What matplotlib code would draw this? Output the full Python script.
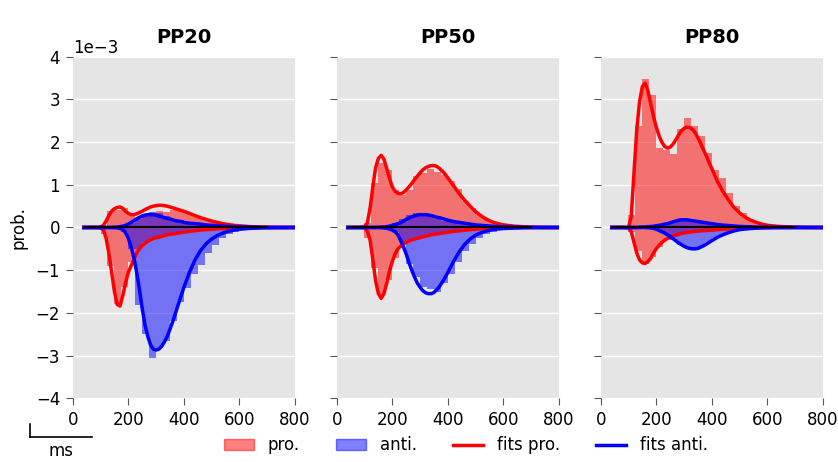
import numpy as np
import matplotlib
matplotlib.use("Agg")
import matplotlib.pyplot as plt
from matplotlib.patches import Patch
from matplotlib.lines import Line2D

titles = ["PP20", "PP50", "PP80"]
bin_edges = [50, 75, 100, 125, 150, 175, 200, 225, 250, 275, 300, 325, 350, 375, 400,
             425, 450, 475, 500, 525, 550, 575, 600, 625, 650, 675, 700]

# histogram heights (x1e-3), one value per 25 ms bin (26 bins from 50 to 700 ms)
pro_up = [
    [0, 0, 0.03, 0.38, 0.40, 0.45, 0.30, 0.25, 0.30, 0.35, 0.38, 0.36, 0.41, 0.40, 0.33,
     0.29, 0.23, 0.20, 0.13, 0.09, 0.06, 0.04, 0.03, 0.02, 0.01, 0.01],
    [0, 0, 0.10, 1.04, 1.50, 1.35, 0.88, 0.75, 0.88, 1.20, 1.27, 1.37, 1.31, 1.23, 1.08,
     0.90, 0.61, 0.45, 0.30, 0.20, 0.12, 0.07, 0.04, 0.02, 0.01, 0.01],
    [0, 0, 0.30, 2.38, 3.47, 3.10, 1.86, 1.82, 1.72, 2.30, 2.56, 2.37, 2.15, 1.74, 1.35,
     1.16, 0.80, 0.50, 0.35, 0.20, 0.12, 0.07, 0.05, 0.03, 0.02, 0.01],
]
anti_up = [
    [0, 0, 0, 0, 0, 0.03, 0.10, 0.20, 0.30, 0.36, 0.34, 0.26, 0.20, 0.17, 0.12,
     0.10, 0.08, 0.06, 0.04, 0.03, 0.02, 0.01, 0.01, 0, 0, 0],
    [0, 0, 0, 0, 0, 0.02, 0.10, 0.20, 0.30, 0.35, 0.33, 0.28, 0.20, 0.16, 0.13,
     0.10, 0.07, 0.05, 0.04, 0.02, 0.01, 0.01, 0, 0, 0, 0],
    [0, 0, 0, 0, 0, 0.02, 0.05, 0.08, 0.12, 0.20, 0.20, 0.15, 0.12, 0.08, 0.06,
     0.04, 0.03, 0.02, 0.01, 0.01, 0, 0, 0, 0, 0, 0],
]
pro_down = [
    [0, 0, -0.15, -0.90, -1.80, -1.40, -0.80, -0.50, -0.35, -0.25, -0.20, -0.15, -0.12, -0.10, -0.08,
     -0.06, -0.05, -0.04, -0.03, -0.02, -0.01, -0.01, 0, 0, 0, 0],
    [0, 0, -0.25, -0.95, -1.58, -1.23, -0.72, -0.40, -0.30, -0.25, -0.20, -0.15, -0.13, -0.10, -0.08,
     -0.06, -0.05, -0.04, -0.03, -0.02, -0.01, -0.01, 0, 0, 0, 0],
    [0, 0, -0.10, -0.55, -0.85, -0.70, -0.45, -0.30, -0.22, -0.15, -0.12, -0.10, -0.08, -0.06, -0.05,
     -0.04, -0.03, -0.02, -0.02, -0.01, -0.01, 0, 0, 0, 0, 0],
]
anti_down = [
    [0, 0, 0, 0, 0, -0.10, -0.50, -1.81, -2.50, -3.06, -2.83, -2.67, -2.20, -1.75, -1.42,
     -1.10, -0.88, -0.60, -0.40, -0.25, -0.15, -0.10, -0.06, -0.04, -0.02, -0.01],
    [0, 0, 0, 0, 0, -0.03, -0.10, -0.35, -0.85, -1.15, -1.40, -1.45, -1.50, -1.30, -1.10,
     -0.80, -0.55, -0.38, -0.25, -0.15, -0.10, -0.06, -0.04, -0.02, -0.01, -0.01],
    [0, 0, 0, 0, 0, 0, -0.05, -0.15, -0.30, -0.40, -0.45, -0.50, -0.45, -0.35, -0.25,
     -0.20, -0.12, -0.08, -0.05, -0.03, -0.02, -0.01, 0, 0, 0, 0],
]

# fitted curves (x1e-3) sampled at fit_t
fit_t = [40, 60, 80, 100, 110, 120, 130, 140, 150, 160, 170, 180, 190, 200, 210, 220, 230, 240,
         250, 260, 270, 280, 290, 300, 310, 320, 330, 340, 350, 360, 370, 380, 390, 400,
         420, 440, 460, 480, 500, 520, 540, 560, 580, 600, 640, 680, 720, 760, 800]

fit_pro_up = [
    [0, 0, 0, 0.01, 0.05, 0.15, 0.28, 0.38, 0.44, 0.47, 0.48, 0.45, 0.38, 0.33, 0.30, 0.30, 0.32, 0.35,
     0.38, 0.42, 0.45, 0.48, 0.50, 0.51, 0.52, 0.52, 0.51, 0.50, 0.48, 0.46, 0.44, 0.42, 0.40, 0.38,
     0.33, 0.28, 0.23, 0.19, 0.15, 0.12, 0.09, 0.07, 0.05, 0.04, 0.02, 0.01, 0.005, 0, 0],
    [0, 0, 0, 0.02, 0.10, 0.45, 0.95, 1.40, 1.62, 1.69, 1.60, 1.38, 1.15, 0.95, 0.85, 0.80, 0.79, 0.82,
     0.88, 0.95, 1.03, 1.12, 1.20, 1.28, 1.35, 1.40, 1.43, 1.45, 1.45, 1.43, 1.38, 1.32, 1.25, 1.16,
     0.98, 0.80, 0.64, 0.50, 0.37, 0.27, 0.19, 0.13, 0.09, 0.06, 0.03, 0.015, 0.005, 0, 0],
    [0, 0, 0, 0.0, 0.25, 1.30, 2.30, 2.95, 3.30, 3.38, 3.20, 2.90, 2.60, 2.35, 2.15, 2.00, 1.90, 1.86,
     1.88, 1.95, 2.05, 2.16, 2.26, 2.32, 2.35, 2.34, 2.30, 2.22, 2.10, 1.96, 1.82, 1.68, 1.52, 1.38,
     1.08, 0.84, 0.64, 0.47, 0.34, 0.24, 0.17, 0.12, 0.08, 0.05, 0.025, 0.012, 0.005, 0, 0],
]
fit_anti_up = [
    [0, 0, 0, 0, 0, 0, 0, 0, 0.005, 0.01, 0.02, 0.03, 0.05, 0.08, 0.12, 0.16, 0.20, 0.24,
     0.27, 0.29, 0.30, 0.30, 0.30, 0.29, 0.27, 0.25, 0.23, 0.21, 0.20, 0.18, 0.16, 0.15, 0.14, 0.12,
     0.10, 0.09, 0.08, 0.06, 0.05, 0.04, 0.03, 0.025, 0.02, 0.015, 0.01, 0.005, 0, 0, 0],
    [0, 0, 0, 0, 0, 0, 0, 0, 0.005, 0.01, 0.01, 0.02, 0.03, 0.05, 0.07, 0.09, 0.11, 0.15,
     0.19, 0.22, 0.25, 0.27, 0.29, 0.30, 0.30, 0.30, 0.29, 0.28, 0.26, 0.24, 0.23, 0.21, 0.19, 0.17,
     0.14, 0.12, 0.10, 0.08, 0.06, 0.05, 0.04, 0.03, 0.02, 0.015, 0.01, 0.005, 0, 0, 0],
    [0, 0, 0, 0, 0, 0, 0, 0.005, 0.01, 0.01, 0.02, 0.02, 0.03, 0.04, 0.05, 0.06, 0.08, 0.09,
     0.11, 0.13, 0.15, 0.17, 0.18, 0.18, 0.18, 0.17, 0.16, 0.15, 0.14, 0.13, 0.12, 0.11, 0.10, 0.09,
     0.07, 0.055, 0.045, 0.035, 0.025, 0.02, 0.015, 0.01, 0.008, 0.005, 0.003, 0, 0, 0, 0],
]
fit_pro_down = [
    [0, 0, 0, -0.01, -0.05, -0.25, -0.60, -1.05, -1.50, -1.80, -1.84, -1.60, -1.30, -1.05, -0.90, -0.75, -0.60, -0.50,
     -0.42, -0.37, -0.32, -0.29, -0.26, -0.24, -0.23, -0.21, -0.19, -0.17, -0.16, -0.15, -0.14, -0.13, -0.12, -0.11,
     -0.09, -0.075, -0.06, -0.05, -0.04, -0.03, -0.025, -0.02, -0.015, -0.01, -0.005, 0, 0, 0, 0],
    [0, 0, 0, -0.01, -0.08, -0.29, -0.75, -1.25, -1.55, -1.66, -1.55, -1.30, -1.02, -0.80, -0.62, -0.50, -0.44, -0.38,
     -0.35, -0.32, -0.29, -0.27, -0.25, -0.24, -0.22, -0.20, -0.19, -0.17, -0.16, -0.15, -0.14, -0.13, -0.12, -0.11,
     -0.09, -0.08, -0.065, -0.05, -0.04, -0.03, -0.025, -0.02, -0.015, -0.01, -0.005, 0, 0, 0, 0],
    [0, 0, 0, -0.01, -0.10, -0.35, -0.60, -0.76, -0.83, -0.84, -0.80, -0.72, -0.60, -0.50, -0.42, -0.35, -0.30, -0.26,
     -0.22, -0.20, -0.18, -0.16, -0.14, -0.13, -0.12, -0.11, -0.10, -0.09, -0.085, -0.08, -0.075, -0.07, -0.065, -0.06,
     -0.05, -0.04, -0.035, -0.03, -0.02, -0.015, -0.01, -0.008, -0.005, -0.003, 0, 0, 0, 0, 0],
]
fit_anti_down = [
    [0, 0, 0, 0, 0, 0, 0, 0, -0.005, -0.01, -0.02, -0.04, -0.12, -0.25, -0.45, -0.70, -1.05, -1.45,
     -1.90, -2.28, -2.55, -2.75, -2.85, -2.87, -2.85, -2.78, -2.68, -2.55, -2.38, -2.20, -2.00, -1.80, -1.60, -1.40,
     -1.05, -0.76, -0.54, -0.38, -0.27, -0.19, -0.13, -0.09, -0.06, -0.04, -0.02, -0.01, -0.005, 0, 0],
    [0, 0, 0, 0, 0, 0, 0, 0, 0, -0.005, -0.01, -0.02, -0.04, -0.06, -0.10, -0.17, -0.30, -0.45,
     -0.62, -0.82, -1.00, -1.16, -1.30, -1.40, -1.48, -1.53, -1.55, -1.55, -1.52, -1.46, -1.38, -1.28, -1.17, -1.05,
     -0.80, -0.58, -0.40, -0.27, -0.18, -0.12, -0.08, -0.05, -0.035, -0.025, -0.012, -0.006, 0, 0, 0],
    [0, 0, 0, 0, 0, 0, 0, 0, 0, 0, -0.005, -0.01, -0.02, -0.04, -0.07, -0.10, -0.13, -0.17,
     -0.21, -0.26, -0.31, -0.36, -0.40, -0.44, -0.47, -0.49, -0.50, -0.50, -0.49, -0.46, -0.43, -0.39, -0.35, -0.31,
     -0.23, -0.17, -0.12, -0.08, -0.05, -0.035, -0.025, -0.015, -0.01, -0.007, -0.003, 0, 0, 0, 0],
]

plt.rcParams['font.family'] = ['DejaVu Sans']
fig = plt.figure(figsize=(8.38, 4.62), dpi=100)
lefts = [0.0868, 0.4018, 0.7168]
bg = '#E5E5E5'
edges = np.array(bin_edges, dtype=float)
centers = (edges[:-1] + edges[1:]) / 2
width = np.diff(edges)
t = np.array(fit_t, dtype=float)

for i in range(3):
    ax = fig.add_axes([lefts[i], 0.1379, 0.2653, 0.7394])
    ax.set_facecolor(bg)
    for s in ax.spines.values():
        s.set_visible(False)
    ax.set_axisbelow(True)
    ax.grid(axis='y', color='white', linewidth=1.0)
    sc = 1e-3
    ax.bar(centers, np.array(pro_up[i]) * sc, width=width, color='red', alpha=0.5, linewidth=0)
    ax.bar(centers, np.array(anti_up[i]) * sc, width=width, color='blue', alpha=0.5, linewidth=0)
    ax.bar(centers, np.array(pro_down[i]) * sc, width=width, color='red', alpha=0.5, linewidth=0)
    ax.bar(centers, np.array(anti_down[i]) * sc, width=width, color='blue', alpha=0.5, linewidth=0)
    ax.plot(t, np.array(fit_pro_up[i]) * sc, color='red', lw=2.5)
    ax.plot(t, np.array(fit_pro_down[i]) * sc, color='red', lw=2.5)
    ax.plot(t, np.array(fit_anti_up[i]) * sc, color='blue', lw=2.5)
    ax.plot(t, np.array(fit_anti_down[i]) * sc, color='blue', lw=2.5)
    ax.plot([edges[0] - 5, edges[-1]], [0, 0], color='black', lw=1.5)
    ax.set_xlim(0, 800)
    ax.set_ylim(-4e-3, 4e-3)
    ax.set_xticks([0, 200, 400, 600, 800])
    ax.set_yticks(np.arange(-4, 5) * 1e-3)
    ax.tick_params(direction='out', length=5, color='#555555', labelsize=12, pad=4)
    ax.set_title(titles[i], fontsize=14, fontweight='bold', pad=10)
    if i == 0:
        ax.ticklabel_format(axis='y', style='sci', scilimits=(0, 0))
        ax.yaxis.get_offset_text().set_fontsize(12)
        ax.set_ylabel('prob.', fontsize=12, labelpad=6)
    else:
        ax.set_yticklabels([])

# small scale-bar axes with "ms" label
sax = fig.add_axes([0.036, 0.055, 0.074, 0.028])
sax.set_xticks([]); sax.set_yticks([])
sax.patch.set_alpha(0)
sax.spines['top'].set_visible(False)
sax.spines['right'].set_visible(False)
sax.spines['left'].set_linewidth(1.2)
sax.spines['bottom'].set_linewidth(1.2)
sax.set_xlabel('ms', fontsize=12, labelpad=4)

handles = [Patch(color='red', alpha=0.5, label='pro.'),
           Patch(color='blue', alpha=0.5, label='anti.'),
           Line2D([], [], color='red', lw=2.5, label='fits pro.'),
           Line2D([], [], color='blue', lw=2.5, label='fits anti.')]
fig.legend(handles=handles, loc='center', bbox_to_anchor=(0.556, 0.036), ncol=4,
           frameon=False, fontsize=12, handlelength=1.8, handletextpad=0.8,
           columnspacing=2.2)

fig.savefig('out.png', dpi=100)
